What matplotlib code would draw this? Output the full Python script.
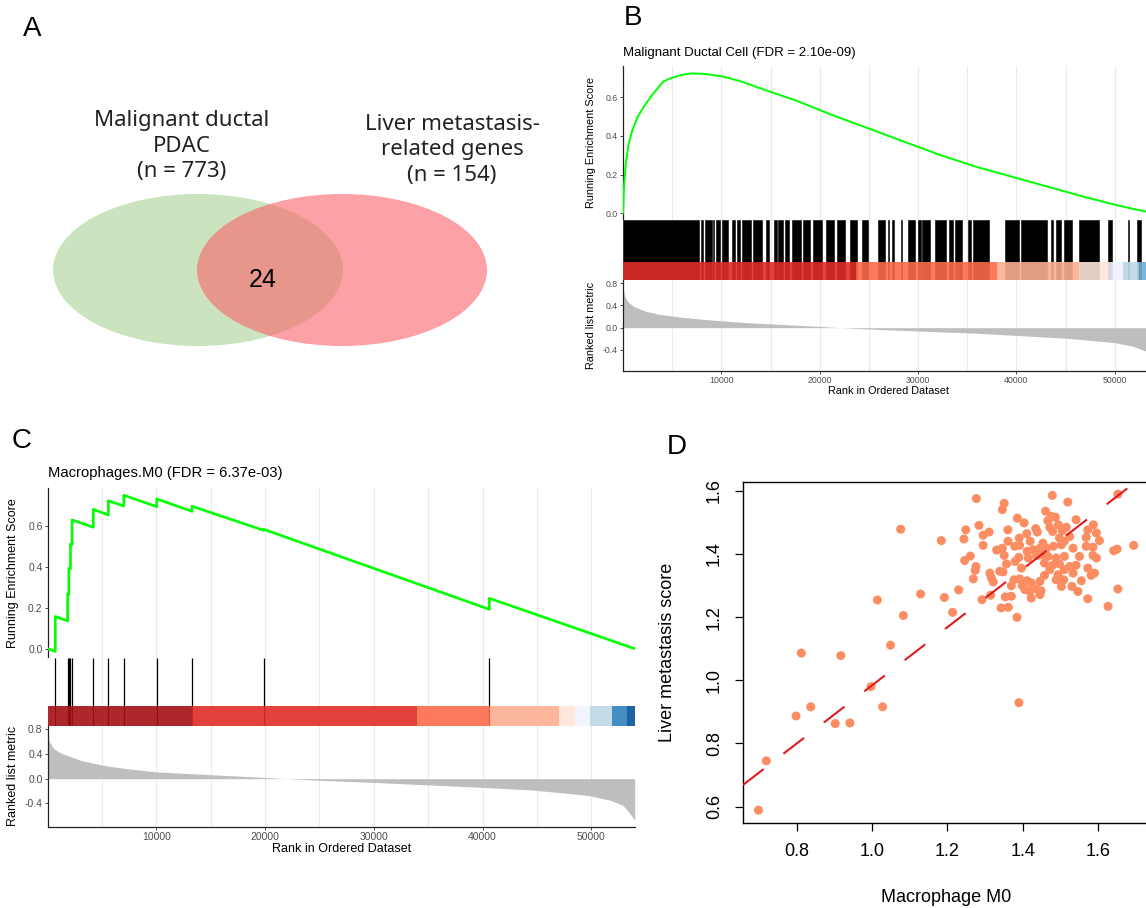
import numpy as np
import matplotlib
matplotlib.use('Agg')
import matplotlib.pyplot as plt
from matplotlib.patches import Ellipse
from matplotlib.ticker import FormatStrFormatter

plt.rcParams['font.family'] = ['Liberation Sans', 'DejaVu Sans']

W, H = 1146, 908

# ---------------- A: Venn ----------------
venn_left_name = "Malignant ductal\nPDAC"
venn_right_name = "Liver metastasis-\nrelated genes"
n_left = 773
n_right = 154
n_shared = 24

# ---------------- B: GSEA malignant ductal cell ----------------
n_genes = 54000
b_title = "Malignant Ductal Cell (FDR = 2.10e-09)"
b_es_rank = [0, 90, 275, 570, 940, 1490, 2220, 2950, 4060, 4790, 5890, 6990, 8460,
             10290, 12130, 13960, 17630, 21300, 24970, 28640, 32310, 35980, 39650,
             43320, 46990, 49560, 52000, 54000]
b_es_score = [0.0, 0.135, 0.257, 0.361, 0.43, 0.50, 0.56, 0.612, 0.681, 0.699, 0.716,
              0.725, 0.721, 0.707, 0.681, 0.647, 0.583, 0.508, 0.439, 0.369, 0.30,
              0.239, 0.187, 0.135, 0.083, 0.049, 0.02, 0.0]
# stretches of the ranking where hit lines merge into black
b_hit_blocks = [(0, 7750), (7920, 8160), (8330, 9010), (9180, 9280), (9450, 9850),
                (10020, 10700), (11040, 11380), (11620, 11890), (12090, 12970),
                (13250, 14090), (14530, 14870), (15350, 15620), (15790, 16300),
                (16500, 16910), (17140, 18090), (18330, 19010), (19350, 20190),
                (20600, 21480), (21720, 22570), (23080, 23750), (24260, 24870),
                (25890, 26630), (26900, 27040), (27380, 27580), (28260, 28400),
                (29010, 29680), (29960, 30300), (30360, 31210), (31720, 32800),
                (33140, 33590), (33760, 34500), (35110, 35380), (35550, 37180),
                (38870, 40300), (40470, 43080), (43520, 43750), (44030, 44530),
                (44870, 45650), (46400, 48430), (49280, 49720), (51320, 51490),
                (52260, 52670)]
b_band_breaks = [0, 23700, 38000, 46400, 49400, 50870, 52430, 54000]
b_band_colors = ['#DE2D26', '#FB6A4A', '#FCAE91', '#FEE5D9', '#EFF3FF', '#BDD7E7', '#6BAED6']
b_metric_rank = [0, 92, 275, 570, 1120, 2220, 3690, 5890, 8460, 12130, 15800, 19980,
                 22040, 24970, 30000, 35990, 40000, 45170, 50000, 51760, 53150, 53600, 54000]
b_metric_val = [0.74, 0.62, 0.53, 0.45, 0.38, 0.30, 0.24, 0.19, 0.145, 0.096, 0.06, 0.024,
                0.0, -0.024, -0.06, -0.10, -0.14, -0.19, -0.27, -0.33, -0.42, -0.5, -0.67]

# ---------------- C: GSEA Macrophages M0 ----------------
c_title = "Macrophages.M0 (FDR = 6.37e-03)"
c_es_rank = [0, 700, 700, 1833, 1833, 1945, 1945, 2095, 2095, 2245, 2245, 4200, 4200,
             5580, 5580, 7000, 7000, 10030, 10030, 13280, 13280, 19870, 19870, 40630,
             40630, 54000]
c_es_score = [0.0, -0.013, 0.158, 0.136, 0.268, 0.266, 0.394, 0.391, 0.513, 0.510, 0.631,
              0.595, 0.683, 0.655, 0.725, 0.699, 0.752, 0.696, 0.734, 0.673, 0.698, 0.58,
              0.585, 0.193, 0.247, 0.0]
c_hits = [700, 1833, 1945, 2095, 2245, 4200, 5580, 7000, 10030, 13280, 19870, 40630]
c_band_breaks = [0, 13280, 34000, 40700, 47000, 48500, 49870, 51930, 53250, 54000]
c_band_colors = ['#A50F15', '#DE2D26', '#FB6A4A', '#FCAE91', '#FEE5D9', '#EFF3FF',
                 '#BDD7E7', '#3182BD', '#08519C']
c_metric_rank = [0, 150, 524, 1272, 3143, 5013, 6884, 10000, 14366, 20000, 21850, 25590,
                 30000, 34940, 40000, 44300, 48040, 50000, 51780, 52900, 53460, 54000]
c_metric_val = [0.71, 0.60, 0.49, 0.41, 0.29, 0.22, 0.17, 0.11, 0.07, 0.02, 0.0, -0.03,
                -0.06, -0.10, -0.14, -0.18, -0.24, -0.28, -0.35, -0.43, -0.54, -0.67]

# ---------------- D: scatter ----------------
mac_m0 = [0.698, 0.719, 0.798, 0.812, 0.837, 0.902, 0.917, 0.941, 0.997, 1.014, 1.028,
          1.049, 1.076, 1.083, 1.129, 1.390,
          1.277, 1.351, 1.346, 1.184, 1.386, 1.404, 1.284, 1.249, 1.311, 1.295, 1.361,
          1.435, 1.439, 1.411, 1.244, 1.295, 1.361, 1.391, 1.420, 1.331, 1.346, 1.379,
          1.392, 1.412, 1.428, 1.446, 1.351, 1.390, 1.415, 1.437, 1.246, 1.261, 1.380,
          1.357, 1.397, 1.276, 1.274, 1.339, 1.348, 1.313, 1.269, 1.317, 1.322, 1.370,
          1.377, 1.392, 1.412, 1.423, 1.446, 1.399, 1.419, 1.406, 1.437, 1.446, 1.423,
          1.230, 1.192, 1.292, 1.315, 1.354, 1.370, 1.343, 1.362, 1.214, 1.385,
          1.479, 1.520, 1.653, 1.461, 1.476, 1.487, 1.467, 1.542, 1.495, 1.472, 1.480,
          1.505, 1.516, 1.573, 1.588, 1.596, 1.569, 1.604, 1.454, 1.498, 1.511, 1.525,
          1.463, 1.482, 1.503, 1.534, 1.569, 1.587, 1.642, 1.651, 1.695, 1.449, 1.467,
          1.489, 1.511, 1.551, 1.587, 1.596, 1.458, 1.480, 1.498, 1.525, 1.542, 1.573,
          1.472, 1.511, 1.458, 1.494, 1.534, 1.591, 1.489, 1.509, 1.556, 1.582, 1.449,
          1.503, 1.531, 1.547, 1.653, 1.573, 1.627]
liver_score = [0.589, 0.745, 0.887, 1.086, 0.916, 0.863, 1.078, 0.865, 0.980, 1.254, 0.916,
               1.111, 1.478, 1.205, 1.273, 0.929,
               1.575, 1.560, 1.540, 1.442, 1.513, 1.498, 1.490, 1.476, 1.469, 1.459, 1.476,
               1.480, 1.469, 1.464, 1.447, 1.427, 1.440, 1.450, 1.440, 1.412, 1.418, 1.424,
               1.427, 1.408, 1.413, 1.418, 1.395, 1.389, 1.387, 1.395, 1.379, 1.393, 1.376,
               1.368, 1.355, 1.360, 1.348, 1.345, 1.343, 1.339, 1.321, 1.324, 1.311, 1.299,
               1.318, 1.321, 1.315, 1.308, 1.313, 1.300, 1.281, 1.287, 1.289, 1.271, 1.260,
               1.286, 1.262, 1.255, 1.269, 1.264, 1.266, 1.229, 1.231, 1.215, 1.199,
               1.585, 1.564, 1.589, 1.535, 1.519, 1.516, 1.505, 1.508, 1.492, 1.484, 1.471,
               1.473, 1.484, 1.476, 1.492, 1.466, 1.452, 1.442, 1.434, 1.450, 1.440, 1.455,
               1.418, 1.424, 1.429, 1.418, 1.424, 1.421, 1.410, 1.415, 1.427, 1.397, 1.392,
               1.387, 1.392, 1.392, 1.395, 1.387, 1.371, 1.364, 1.368, 1.360, 1.364, 1.355,
               1.350, 1.350, 1.332, 1.334, 1.339, 1.339, 1.318, 1.318, 1.315, 1.332, 1.283,
               1.297, 1.297, 1.281, 1.289, 1.258, 1.234]
fit_intercept = 0.065
fit_slope = 0.919

fig = plt.figure(figsize=(W / 100, H / 100), dpi=100)


def px_axes(x0, y0, x1, y1):
    return fig.add_axes([x0 / W, 1 - y1 / H, (x1 - x0) / W, (y1 - y0) / H])


def panel_letter(x, y, s):
    fig.text(x / W, 1 - y / H, s, fontsize=20, ha='center', va='center')


# ---- A ----
ax_a = px_axes(0, 0, 580, 420)
ax_a.set_xlim(0, 580)
ax_a.set_ylim(420, 0)
ax_a.axis('off')
ax_a.add_patch(Ellipse((198, 270), 290, 152, facecolor='#CBE3BF', edgecolor='none'))
ax_a.add_patch(Ellipse((342, 270), 290, 152, facecolor='#FA646B', alpha=0.6, edgecolor='none'))
ax_a.text(182, 146, f"{venn_left_name}\n(n = {n_left})", ha='center', va='center',
          fontsize=16, family=['Noto Sans', 'DejaVu Sans'], linespacing=1.3, color='#222222')
ax_a.text(452, 150, f"{venn_right_name}\n(n = {n_right})", ha='center', va='center',
          fontsize=16, family=['Noto Sans', 'DejaVu Sans'], linespacing=1.3, color='#222222')
ax_a.text(263, 280, str(n_shared), ha='center', va='center', fontsize=18)
panel_letter(32, 29, 'A')


def gsea_panel(box, title, es_rank, es_score, hits, blocks, breaks, colors,
               met_rank, met_val, fs):
    left, right = box['left'], box['right']
    # running enrichment score
    ax1 = px_axes(left, box['es_top'], right, box['hits_top'])
    ax1.plot(es_rank, es_score, color='#00FF00', lw=fs['curve'], zorder=3)
    ax1.set_ylim(box['es_lim'])
    ax1.set_yticks([0, 0.2, 0.4, 0.6])
    ax1.yaxis.set_major_formatter(FormatStrFormatter('%.1f'))
    ax1.set_ylabel('Running Enrichment Score', fontsize=fs['label'])
    ax1.yaxis.set_label_coords((box['ylab_x'] - left) / (right - left), 0.5)
    ax1.yaxis.label.set_va('center')
    fig.text(left / W, 1 - box['title_y'] / H, title, fontsize=fs['title'],
             ha='left', va='center')

    # hits + rank band
    ax2 = px_axes(left, box['hits_top'], right, box['band_bottom'])
    ax2.set_ylim(0, 1)
    band_h = (box['band_bottom'] - box['band_top']) / (box['band_bottom'] - box['hits_top'])
    if hits:
        ax2.vlines(hits, 0, 1, color='black', lw=0.9, zorder=2)
    if blocks:
        ax2.broken_barh([(s, e - s) for s, e in blocks], (0, 1), facecolor='black',
                        edgecolor='black', lw=0.4, zorder=2)
    ax2.broken_barh([(breaks[i], breaks[i + 1] - breaks[i]) for i in range(len(colors))],
                    (0, band_h), facecolors=colors, edgecolor='none', alpha=0.9, zorder=3)

    # ranked list metric
    ax3 = px_axes(left, box['band_bottom'], right, box['bottom'])
    ax3.fill_between(met_rank, met_val, 0, color='#BEBEBE', lw=0, zorder=2)
    ax3.set_ylim(box['met_lim'])
    ax3.set_yticks([-0.4, 0, 0.4, 0.8])
    ax3.yaxis.set_major_formatter(FormatStrFormatter('%.1f'))
    ax3.set_ylabel('Ranked list metric', fontsize=fs['label'])
    ax3.yaxis.set_label_coords((box['ylab_x'] - left) / (right - left), 0.5)
    ax3.yaxis.label.set_va('center')
    ax3.set_xlabel('Rank in Ordered Dataset', fontsize=fs['label'])
    ax3.xaxis.set_label_coords(0.5, (box['bottom'] - box['xlab_y']) / (box['bottom'] - box['band_bottom']))
    ax3.xaxis.label.set_va('center')

    for ax in (ax1, ax2, ax3):
        ax.set_xlim(0, n_genes)
        ax.set_xticks(range(10000, 50001, 10000))
        ax.set_xticks(range(5000, 50001, 10000), minor=True)
        ax.grid(axis='x', which='both', color='#EBEBEB', lw=0.8)
        ax.set_axisbelow(True)
        for sp in ax.spines.values():
            sp.set_visible(False)
        ax.tick_params(axis='both', which='both', labelsize=fs['tick'], labelcolor='#4D4D4D',
                       color='#333333', length=2.2, width=0.6, pad=1.5)
        ax.tick_params(axis='x', which='minor', length=0)
    ax1.tick_params(axis='x', bottom=False, labelbottom=False)
    ax2.tick_params(axis='both', bottom=False, labelbottom=False, left=False, labelleft=False)
    ax1.spines['left'].set_visible(True)
    ax3.spines['left'].set_visible(True)
    ax3.spines['bottom'].set_visible(True)
    for sp in (ax1.spines['left'], ax3.spines['left'], ax3.spines['bottom']):
        sp.set_linewidth(0.9)
        sp.set_color('#222222')


box_b = dict(left=623.1, right=623.1 + n_genes / 101.7, es_top=66, hits_top=220,
             band_top=262.3, band_bottom=279.5, bottom=370.7, es_lim=(-0.036, 0.763),
             met_lim=(-0.775, 0.868), title_y=53, ylab_x=591.5, xlab_y=390.7)
gsea_panel(box_b, b_title, b_es_rank, b_es_score, [], b_hit_blocks, b_band_breaks,
           b_band_colors, b_metric_rank, b_metric_val,
           dict(tick=6.3, label=7.8, title=9.5, curve=1.4))
panel_letter(633, 18, 'B')

box_c = dict(left=47.7, right=634.7, es_top=488.3, hits_top=658.3, band_top=705.7,
             band_bottom=725.7, bottom=826.7, es_lim=(-0.047, 0.786),
             met_lim=(-0.777, 0.858), title_y=473.3, ylab_x=12.5, xlab_y=849)
gsea_panel(box_c, c_title, c_es_rank, c_es_score, c_hits, [], c_band_breaks,
           c_band_colors, c_metric_rank, c_metric_val,
           dict(tick=7.5, label=9, title=10.6, curve=1.9))
panel_letter(22, 441, 'C')

# ---- D ----
ax_d = px_axes(743, 481.5, 1148.7, 822.8)
ax_d.scatter(mac_m0, liver_score, s=42, color='#FC8D62', edgecolors='none', zorder=2)
ax_d.set_xlim(0.657, 1.735)
ax_d.set_ylim(0.549, 1.629)
xs = np.array(ax_d.get_xlim())
ax_d.plot(xs, fit_intercept + fit_slope * xs, color='#E31A1C', lw=1.5,
          ls=(0, (12.5, 12)), zorder=3)
ax_d.set_xticks([0.8, 1.0, 1.2, 1.4, 1.6])
ax_d.set_yticks([0.6, 0.8, 1.0, 1.2, 1.4, 1.6])
ax_d.xaxis.set_major_formatter(FormatStrFormatter('%.1f'))
ax_d.yaxis.set_major_formatter(FormatStrFormatter('%.1f'))
ax_d.tick_params(direction='out', length=5.5, width=0.9, labelsize=13, pad=9)
ax_d.tick_params(axis='y', labelrotation=90, pad=9)
for lab in ax_d.get_yticklabels():
    lab.set_va('center')
for sp in ax_d.spines.values():
    sp.set_linewidth(1.0)
ax_d.set_xlabel('Macrophage M0', fontsize=13)
ax_d.xaxis.set_label_coords(0.5, (822.8 - 898) / (822.8 - 481.5))
ax_d.xaxis.label.set_va('center')
ax_d.set_ylabel('Liver metastasis score', fontsize=13)
ax_d.yaxis.set_label_coords((668 - 743) / (1148.7 - 743), 0.5)
ax_d.yaxis.label.set_va('center')
panel_letter(677, 447, 'D')

fig.savefig('out.png', dpi=100)
